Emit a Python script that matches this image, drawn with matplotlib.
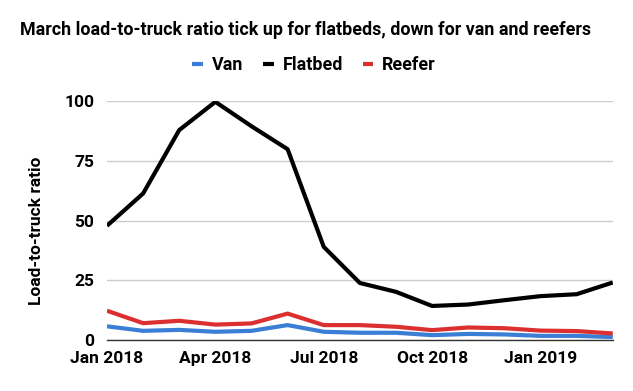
import matplotlib.pyplot as plt
import numpy as np

plt.rcParams['font.family'] = ['Roboto', 'DejaVu Sans']

months = ['Jan 2018', 'Feb 2018', 'Mar 2018', 'Apr 2018', 'May 2018', 'Jun 2018',
          'Jul 2018', 'Aug 2018', 'Sep 2018', 'Oct 2018', 'Nov 2018', 'Dec 2018',
          'Jan 2019', 'Feb 2019', 'Mar 2019']
van = [5.8, 3.9, 4.3, 3.5, 3.9, 6.3, 3.5, 3.1, 3.1, 2.1, 2.6, 2.4, 1.8, 1.8, 1.3]
flatbed = [47.8, 61.3, 87.8, 99.6, 89.4, 79.8, 39.0, 23.9, 20.2, 14.3, 14.9, 16.7, 18.4, 19.2, 24.1]
reefer = [12.3, 7.1, 8.1, 6.5, 7.0, 11.1, 6.3, 6.3, 5.6, 4.2, 5.3, 5.0, 4.0, 3.8, 2.8]
tick_labels = ['Jan 2018', 'Apr 2018', 'Jul 2018', 'Oct 2018', 'Jan 2019']

x = np.arange(len(months))

fig = plt.figure(figsize=(6.33, 3.91), dpi=100)
ax = fig.add_axes([0.169, 0.130, 0.799, 0.612])

ax.plot(x, van, color='#3a7fd5', lw=3, label='Van', solid_capstyle='butt')
ax.plot(x, flatbed, color='#000000', lw=3, label='Flatbed', solid_capstyle='butt')
ax.plot(x, reefer, color='#dc2f2f', lw=3, label='Reefer', solid_capstyle='butt')

ax.set_xlim(0, 14)
ax.set_ylim(0, 100)
ax.set_yticks([0, 25, 50, 75, 100])
ax.set_xticks(x[::3])
ax.set_xticklabels(tick_labels)
ax.tick_params(length=0, labelsize=12.5)
ax.tick_params(axis='x', pad=7.5)
ax.tick_params(axis='y', pad=9)
for lab in ax.get_xticklabels() + ax.get_yticklabels():
    lab.set_fontweight('bold')

ax.grid(axis='y', color='#cccccc', lw=1)
ax.set_axisbelow(True)
for s in ['top', 'right', 'left']:
    ax.spines[s].set_visible(False)
ax.spines['bottom'].set_color('#333333')
ax.spines['bottom'].set_linewidth(1)

ax.set_ylabel('Load-to-truck ratio', fontsize=12.5, fontweight='bold')
ax.yaxis.set_label_coords(-0.125, 0.455)

fig.text(0.031, 0.922, 'March load-to-truck ratio tick up for flatbeds, down for van and reefers',
         fontsize=12.9, fontweight='bold', ha='left', va='center')

fig.legend(loc='center', bbox_to_anchor=(0.496, 0.834), ncol=3, frameon=False,
           prop={'weight': 'bold', 'size': 12.9}, handlelength=0.6, handletextpad=0.5,
           columnspacing=1.1)

plt.savefig('out.png', dpi=100)
